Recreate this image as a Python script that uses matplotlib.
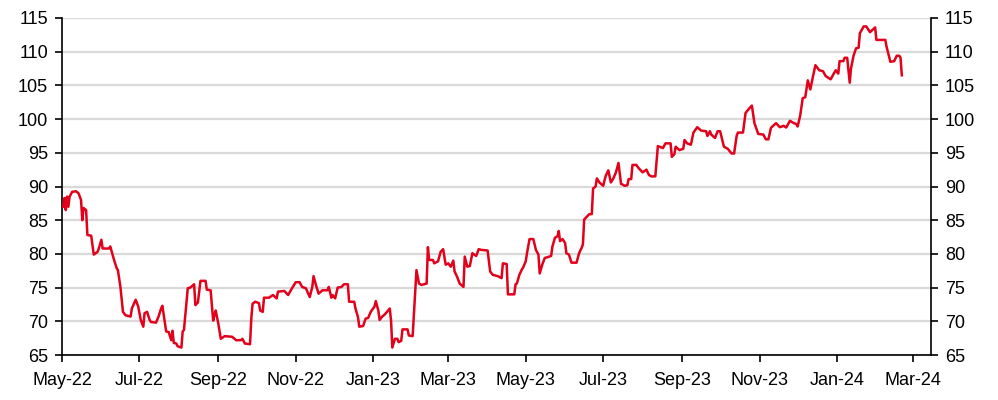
import matplotlib
matplotlib.use("Agg")
import matplotlib.pyplot as plt
import matplotlib.dates as mdates
import numpy as np

# data ######################################
# days since 1 May 2022, and index level
start = np.datetime64("2022-05-01")
obs_day = [
    1, 2, 3, 4, 5, 6, 8, 11, 13, 15, 16, 17, 19, 20, 23, 25, 28, 29, 31, 32,
    37, 38, 41, 43, 44, 46, 48, 50, 54, 55, 58, 60, 62, 64, 65, 67, 69, 70,
    74, 76, 78, 79, 82, 84, 86, 87, 88, 90, 91, 94, 95, 96, 99, 101, 104,
    105, 107, 109, 113, 114,
    117, 119, 120, 121, 123, 125, 128, 134, 137, 141, 142, 144, 148, 149,
    150, 152, 155, 156, 158, 159, 163, 166, 169, 170, 175, 178, 181, 184,
    187, 189, 192, 195, 197, 198, 200, 202, 205, 209, 210, 212, 213, 215,
    217, 220, 222, 225, 226,
    230, 231, 233, 234, 237, 239, 241, 243, 246, 247, 249, 250, 252, 254,
    258, 259, 260, 262, 264, 265, 267, 268, 272, 273, 276, 279, 281, 283,
    287, 288, 289, 292, 293, 296, 298, 300, 302, 304, 306, 308, 309, 311,
    313, 316, 317, 319, 321, 323, 326, 328, 330, 335,
    337, 339, 343, 346, 347, 350, 351, 356, 357, 358, 360, 362, 363, 365,
    366, 368, 371, 373, 375, 376, 378, 380, 382, 385, 386, 388, 390, 391,
    392, 394, 396, 397, 399, 401, 405, 407, 409, 410, 411, 413, 415, 417,
    418, 420, 421, 423, 426, 427, 428, 430, 432, 434, 436, 438, 440, 443,
    445, 446, 448, 449, 452, 454,
    455, 457, 460, 462, 464, 467, 469, 473, 475, 479, 480, 482, 483, 486,
    489, 490, 492, 495, 497, 500, 503, 507, 508, 510, 511, 514, 516, 518,
    521, 524, 527, 529, 531, 532, 536, 538, 541, 543, 545, 548, 552, 554,
    556, 558, 562, 565, 568,
    570, 573, 575, 578, 579, 581, 583, 585, 587, 589, 591, 593, 596, 599,
    601, 605, 607, 609, 611, 612, 615, 616, 618, 620, 621, 623, 625, 627,
    628, 631, 633, 636, 638, 640, 641, 648, 649, 652, 655, 657, 659, 660,
    661,
]
level = [
    87.0, 88.3, 86.5, 88.5, 87.0, 88.5, 89.2, 89.3, 89.0, 88.0, 85.0, 86.8,
    86.5, 82.8, 82.7, 79.9, 80.3, 80.8, 82.1, 80.8, 80.8, 81.1, 79.1, 77.9,
    77.6, 75.1, 71.4, 70.9, 70.7, 71.9, 73.2, 72.2, 70.2, 69.2, 71.2, 71.4,
    70.2, 69.9, 69.8, 70.7, 71.9, 72.3, 68.5, 68.4, 67.2, 68.6, 66.8, 66.7,
    66.3, 66.1, 68.5, 68.7, 74.9, 75.0, 75.5, 72.4, 72.8, 76.0, 76.0, 74.7,
    74.6, 70.1, 70.9, 71.6, 69.7, 67.4, 67.8, 67.7, 67.2, 67.2, 67.4, 66.7,
    66.6, 70.4, 72.6, 72.9, 72.7, 71.6, 71.4, 73.5, 73.5, 73.9, 73.4, 74.4,
    74.5, 73.9, 74.9, 75.8, 75.8, 75.1, 74.9, 73.6, 75.1, 76.7, 75.3, 74.1,
    74.6, 74.6, 75.1, 73.5, 73.9, 73.4, 75.0, 75.1, 75.5, 75.5, 72.9,
    72.9, 71.9, 70.6, 69.2, 69.3, 70.4, 70.5, 71.4, 72.2, 73.0, 71.6, 70.2,
    70.7, 71.0, 71.9, 70.1, 66.1, 67.4, 67.4, 66.9, 67.1, 68.8, 68.8, 67.9,
    67.8, 77.6, 75.6, 75.4, 75.6, 81.0, 79.1, 79.1, 78.6, 78.9, 80.3, 80.7,
    78.4, 78.6, 78.1, 79.0, 77.4, 76.6, 75.6, 75.1, 79.6, 78.1, 78.2, 80.1,
    79.7, 80.7, 80.6, 80.5,
    77.4, 76.9, 76.7, 76.4, 78.6, 78.5, 74.0, 74.0, 75.5, 75.6, 76.9, 77.7,
    78.0, 78.9, 80.1, 82.2, 82.2, 80.6, 79.9, 77.1, 78.4, 79.4, 79.5, 79.7,
    81.1, 82.4, 82.6, 83.4, 81.9, 82.2, 81.6, 80.1, 79.9, 78.7, 78.7, 80.1,
    80.9, 81.4, 85.1, 85.5, 85.9, 85.9, 89.7, 90.0, 91.2, 90.6, 90.1, 90.9,
    91.6, 92.4, 90.6, 91.2, 92.1, 93.5, 90.4, 90.1, 90.2, 91.1, 91.1, 93.2,
    93.2, 92.7,
    92.5, 92.1, 92.5, 91.7, 91.5, 91.5, 96.0, 95.7, 96.4, 96.4, 94.4, 94.8,
    95.9, 95.4, 95.6, 96.9, 96.4, 96.2, 98.0, 98.8, 98.3, 98.2, 97.5, 98.2,
    97.7, 97.2, 98.2, 98.2, 95.9, 95.6, 94.9, 94.9, 97.5, 98.0, 98.0, 100.9,
    101.6, 102.0, 99.4, 97.8, 97.7, 97.0, 97.0, 98.7, 99.4, 98.8, 99.0,
    98.75, 99.75, 99.5, 99.25, 98.9, 100.5, 103.1, 103.25, 105.75, 104.4,
    106.25, 108.0, 107.25, 107.1, 106.4, 105.9, 106.6, 107.25, 106.75, 108.6,
    108.6, 109.1, 109.1, 105.4, 107.5, 109.4, 110.5, 110.6, 112.75, 113.75,
    113.75, 112.9, 113.25, 113.6, 111.75, 111.75, 110.75, 108.5, 108.6,
    109.4, 109.4, 109.1, 106.5,
]
xmin, xmax = np.datetime64("2022-05-01"), np.datetime64("2024-03-15")
yticks = list(range(65, 116, 5))
##########################

dates = start + np.array(obs_day).astype("timedelta64[D]")

plt.rcParams.update({
    "font.family": ["Liberation Sans", "DejaVu Sans"],
    "font.size": 13,
})

fig = plt.figure(figsize=(9.98, 4.0), dpi=100)
ax = fig.add_axes([0.0621, 0.1125, 0.8708, 0.8425])

# series
ax.plot(dates, level, color="#e2001a", lw=1.8, zorder=3)

# grid
ax.set_yticks(yticks)
ax.grid(True, "major", "y", color="#d9d9d9", linewidth=1.6, zorder=0)
ax.set_axisbelow(True)

# axes
ax.set_xlim(xmin, xmax)
ax.set_ylim(65, 115)
ax.xaxis.set_major_locator(mdates.MonthLocator(bymonth=[1, 3, 5, 7, 9, 11]))
ax.xaxis.set_major_formatter(mdates.DateFormatter("%b-%y"))
ax.spines["top"].set_visible(False)
for s in ["left", "right", "bottom"]:
    ax.spines[s].set_linewidth(1.2)
    ax.spines[s].set_color("black")
ax.tick_params(axis="both", direction="out", length=5, width=1.2,
               colors="black", pad=5)
ax.tick_params(axis="x", pad=7)
ax.tick_params(axis="y", right=True, labelright=True)

fig.savefig("out.png", dpi=100)
